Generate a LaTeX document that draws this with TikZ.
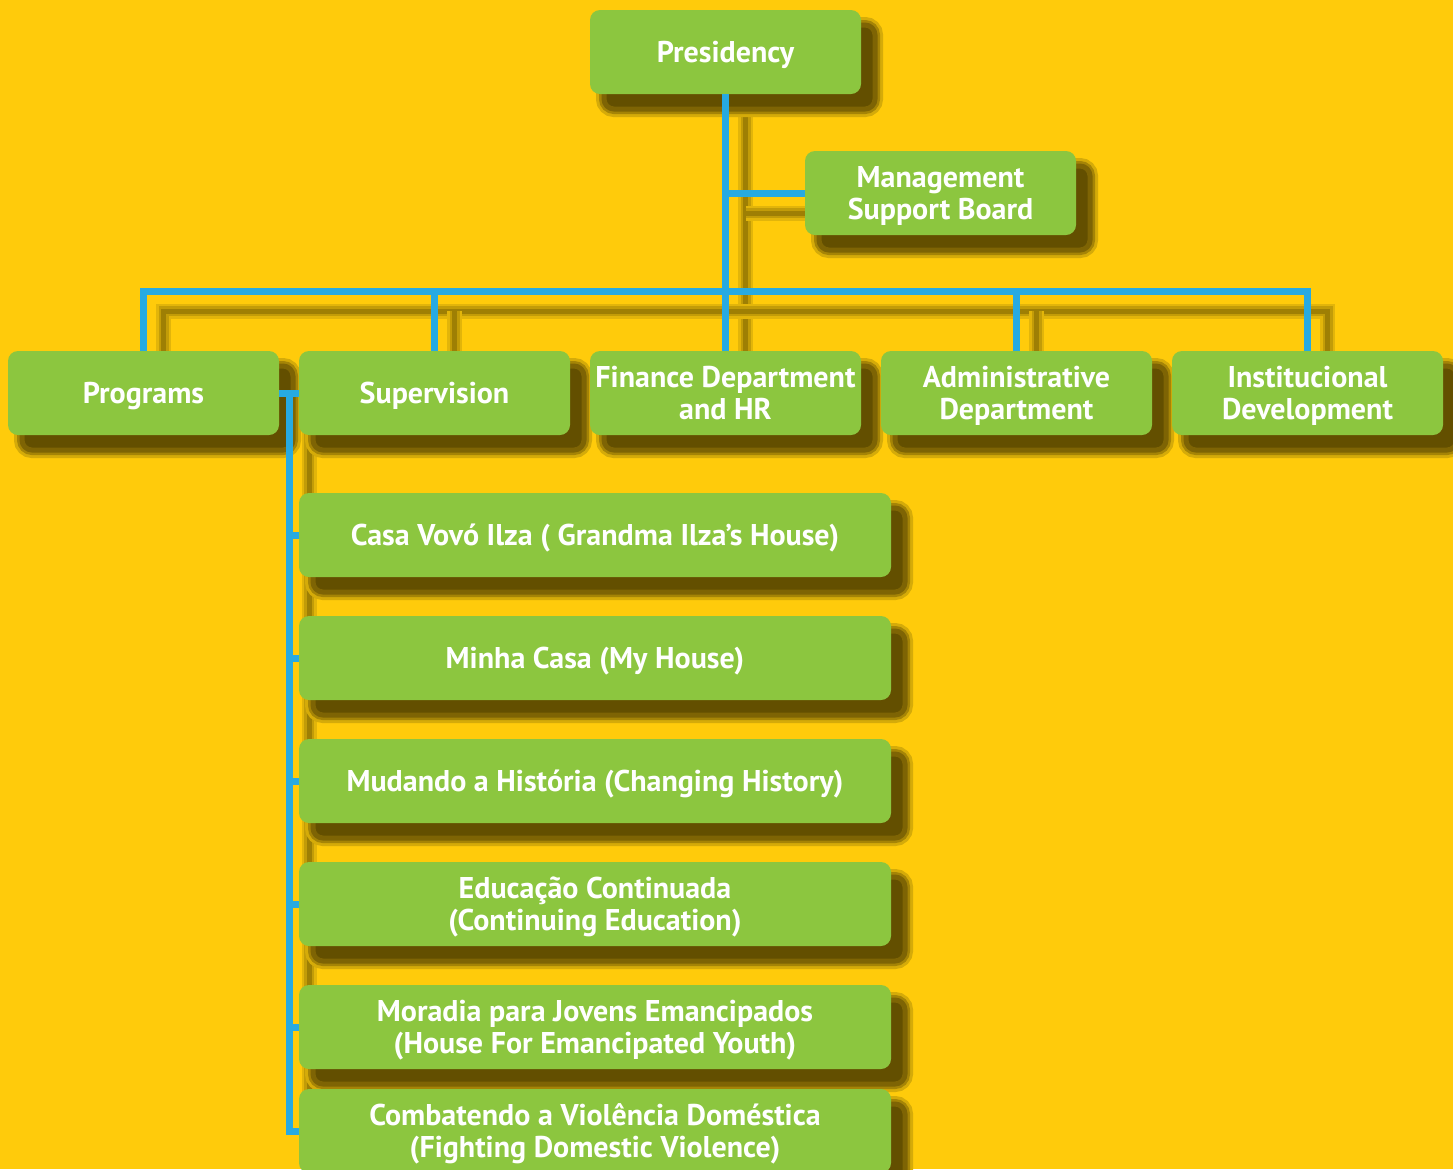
\documentclass[tikz,border=0pt]{standalone}
\usepackage{fontspec}
\newfontfamily\boxfont{PT Sans}
\usetikzlibrary{positioning}
\usetikzlibrary{calc}
\usetikzlibrary{backgrounds}
\usetikzlibrary{shadows}
\definecolor{bgYellow}{HTML}{FFCB0B}
\definecolor{boxGreen}{HTML}{8CC63F}
\definecolor{wireBlue}{HTML}{27AAE1}
\definecolor{shadeCore}{HTML}{634F00}
\definecolor{shadeMid}{HTML}{7E6404}
\definecolor{shadeSoft}{HTML}{A58406}
\definecolor{shadeFade}{HTML}{D5AB09}
\definecolor{lineShadeA}{HTML}{E2B50A}
\definecolor{lineShadeB}{HTML}{C29C08}
\definecolor{lineShadeC}{HTML}{9E7F04}

\begin{document}
\begin{tikzpicture}[
    x=0.5pt, y=-0.5pt,
    unit/.style = {rectangle, rounded corners=5pt, fill=boxGreen, text=white,
      font=\boxfont\bfseries\fontsize{15}{16}\selectfont, align=center,
      minimum width=135.5pt, minimum height=42pt, inner sep=0pt, outer sep=0pt, text depth=0pt,
      drop shadow={shadow xshift=7pt, shadow yshift=-7.5pt, opacity=1,
        fill=shadeFade, draw=shadeFade, line width=8pt},
      drop shadow={shadow xshift=7pt, shadow yshift=-7.5pt, opacity=1,
        fill=shadeSoft, draw=shadeSoft, line width=5pt},
      drop shadow={shadow xshift=7pt, shadow yshift=-7.5pt, opacity=1,
        fill=shadeCore, draw=shadeMid, line width=2.5pt}},
    prog/.style = {unit, minimum width=296pt},
    wire/.style = {draw=wireBlue, line width=3.5pt},
    wireshade/.style = {draw=lineShadeC, line width=2.5pt,
      preaction={draw=lineShadeA, line width=7.5pt},
      preaction={draw=lineShadeB, line width=5pt}},
    node distance=10pt,
  ]

    \useasboundingbox (0,0) rectangle (1453,1169);

    % top
    \node[unit] (pres) at (725.5,52) {Presidency};
    \node[unit] (mgmt) at (940.5,193) {Management\\Support Board};

    % departments
    \node[unit] (progs) at (143.5,393) {Programs};
    \node[unit, right=of progs] (sup) {Supervision};
    \node[unit, right=of sup] (fin) {Finance Department\\and HR};
    \node[unit, right=of fin] (adm) {Administrative\\Department};
    \node[unit, right=of adm] (inst) {Institucional\\Development};

    % programs
    \node[prog] (casa) at (595,535) {Casa Vovó Ilza ( Grandma Ilza’s House)};
    \node[prog, below=19.5pt of casa] (minha) {Minha Casa (My House)};
    \node[prog, below=19.5pt of minha] (mudando) {Mudando a História (Changing History)};
    \node[prog, below=19.5pt of mudando] (educ) {Educação Continuada\\(Continuing Education)};
    \node[prog, below=19.5pt of educ] (morad) {Moradia para Jovens Emancipados\\(House For Emancipated Youth)};
    \node[prog, below=10pt of morad] (comb) {Combatendo a Violência Doméstica\\(Fighting Domestic Violence)};

    \coordinate (bus) at (0,291);
    \coordinate (spine) at ($(progs.east)!0.5!(sup.west)$);

    \def\wiring#1{
      \draw[#1] (pres.south) -- (fin.north);
      \draw[#1] (pres.south |- mgmt.west) -- (mgmt.west);
      \draw[#1] (progs.north) -- (progs.north |- bus) -- (inst.north |- bus) -- (inst.north);
      \draw[#1] (sup.north) -- (sup.north |- bus);
      \draw[#1] (adm.north) -- (adm.north |- bus);
      \draw[#1] (progs.east) -- (sup.west);
      \draw[#1] (spine) |- (comb.west);
      \foreach \p in {casa,minha,mudando,educ,morad} {
        \draw[#1] (spine |- \p.west) -- (\p.west);
      }
    }

    \begin{scope}[on background layer]
      \fill[bgYellow] (0,0) rectangle (1453,1169);
      \begin{scope}[transform canvas={shift={(10pt,-10pt)}}]
        \wiring{wireshade}
      \end{scope}
    \end{scope}

    \wiring{wire}

  \end{tikzpicture}
\end{document}
